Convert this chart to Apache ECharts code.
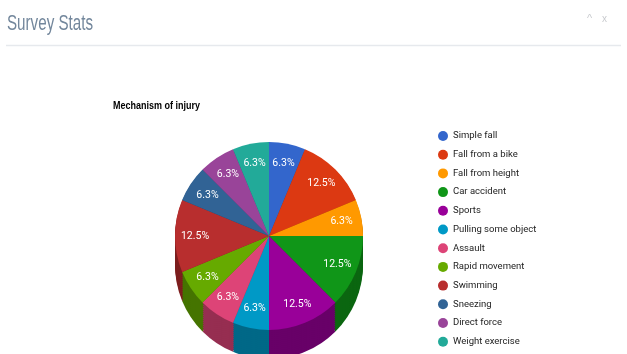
<!DOCTYPE html>
<html>
<head>
<meta charset="utf-8">
<script src="https://cdn.jsdelivr.net/npm/echarts@6/dist/echarts.min.js"></script>
<style>
html,body{margin:0;padding:0;background:#fff;}
#c{width:627px;height:354px;}
</style>
</head>
<body>
<div id="c"></div>
<script>
var categories = ["Simple fall","Fall from a bike","Fall from height","Car accident","Sports","Pulling some object","Assault","Rapid movement","Swimming","Sneezing","Direct force","Weight exercise"];
var counts = [1,2,1,2,2,1,1,1,2,1,1,1];
var colors = ["#3366CC","#DC3912","#FF9900","#109618","#990099","#0099C6","#DD4477","#66AA00","#B82E2E","#316395","#994499","#22AA99"];
var pageTitle = "Survey Stats";
var chartTitle = "Mechanism of injury";

var FONT = "Roboto,'Liberation Sans',Arial,sans-serif";
var AFONT = "'Liberation Sans',Arial,sans-serif";
var CX = 269, CY = 236, R = 94, DEPTH = 29;
var total = counts.reduce(function(a,b){return a+b;},0);

function darken(hex, f){
  var n = parseInt(hex.slice(1),16);
  var r = Math.round(((n>>16)&255)*f), g = Math.round(((n>>8)&255)*f), b = Math.round((n&255)*f);
  return 'rgb('+r+','+g+','+b+')';
}

function dataWith(colFn){
  return categories.map(function(name,i){
    return {name:name, value:counts[i], itemStyle:{color:colFn(i)}};
  });
}

var series = [];
// top face
series.push({
  type:'pie', name:'top', z:10, silent:true, animation:false,
  center:[CX,CY], radius:[0,R], startAngle:90, clockwise:true,
  label:{show:false}, labelLine:{show:false},
  itemStyle:{borderWidth:0},
  emphasis:{disabled:true},
  data:dataWith(function(i){return colors[i];})
});
// side (stacked offset copies, darker)
for (var d = DEPTH; d >= 1; d -= 2){
  series.push({
    type:'pie', name:'side'+d, z:2, silent:true, animation:false,
    center:[CX,CY+d], radius:[0,R], startAngle:90, clockwise:true,
    label:{show:false}, labelLine:{show:false},
    itemStyle:{borderWidth:0},
    emphasis:{disabled:true},
    data:dataWith(function(i){return darken(colors[i],0.68);})
  });
}
// labels
series.push({
  type:'pie', name:'labels', z:12, silent:true, animation:false,
  center:[CX,CY], radius:[48,R], startAngle:90, clockwise:true,
  itemStyle:{color:'rgba(0,0,0,0)', borderWidth:0},
  emphasis:{disabled:true},
  labelLine:{show:false},
  label:{show:true, position:'inside', color:'#fff', fontSize:10.5, fontFamily:FONT,
    formatter:function(p){ return (p.value/total*100).toFixed(1)+'%'; }},
  data:categories.map(function(name,i){return {name:name, value:counts[i]};})
});

var chart = echarts.init(document.getElementById('c'), null, {renderer:'canvas'});
chart.setOption({
  backgroundColor:'#fff',
  animation:false,
  graphic:[
    {type:'text', x:7, y:23.5, scaleX:0.69,
     style:{text:pageTitle, x:0, y:0, verticalAlign:'middle', fill:'#73879C', font:'22px '+AFONT}},
    {type:'text', x:113, y:106, scaleX:0.9,
     style:{text:chartTitle, x:0, y:0, verticalAlign:'middle', fill:'#000', font:'bold 10px '+AFONT}},
    {type:'line', shape:{x1:6,y1:45.5,x2:621,y2:45.5}, style:{stroke:'#E6E9ED', lineWidth:1.5}},
    {type:'text', x:587, y:19, style:{text:'^', x:0, y:0, verticalAlign:'middle', fill:'#C9CBCF', font:'11px '+AFONT}},
    {type:'text', x:602, y:19, style:{text:'x', x:0, y:0, verticalAlign:'middle', fill:'#C9CBCF', font:'10px '+AFONT}}
  ],
  legend:{
    orient:'vertical', left:438, top:131, padding:0, height:240,
    icon:'circle', itemWidth:10, itemHeight:10, itemGap:8.7,
    selectedMode:false,
    textStyle:{fontSize:9.5, color:'#222', fontFamily:FONT, lineHeight:10, height:10},
    data:categories.map(function(name,i){return {name:name, itemStyle:{color:colors[i]}};})
  },
  series:series
});
</script>
</body>
</html>
